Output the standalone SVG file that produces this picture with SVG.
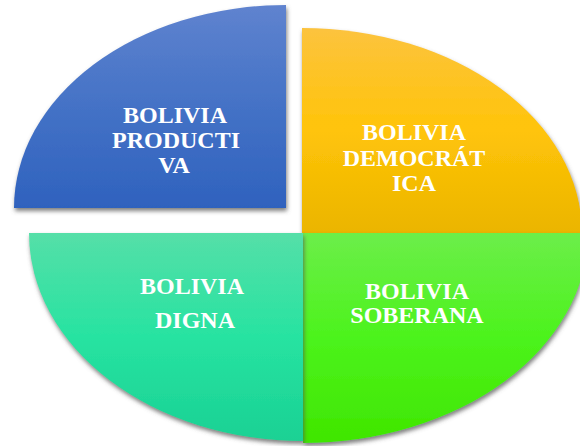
<svg xmlns="http://www.w3.org/2000/svg" width="580" height="446" viewBox="0 0 580 446">
<defs>
<style>
.lbl{font-family:"Liberation Serif","Times New Roman",serif;font-weight:bold;font-size:24px;fill:#ffffff;text-anchor:middle}
</style>
<filter id="sh" x="-10%" y="-10%" width="120%" height="120%">
<feGaussianBlur in="SourceAlpha" stdDeviation="2"/>
<feOffset dx="1" dy="3" result="b"/>
<feFlood flood-color="#555555" flood-opacity="0.75"/>
<feComposite in2="b" operator="in"/>
<feMerge><feMergeNode/><feMergeNode in="SourceGraphic"/></feMerge>
</filter>
<linearGradient id="gBlue" x1="0" y1="0" x2="0" y2="1">
<stop offset="0" stop-color="#5f83cf"/>
<stop offset="0.5" stop-color="#4472c6"/>
<stop offset="1" stop-color="#2f62be"/>
</linearGradient>
<linearGradient id="gYellow" x1="0" y1="0" x2="0" y2="1">
<stop offset="0" stop-color="#fcc33e"/>
<stop offset="0.5" stop-color="#ffc409"/>
<stop offset="1" stop-color="#ebb500"/>
</linearGradient>
<linearGradient id="gTeal" x1="0" y1="0" x2="0" y2="1">
<stop offset="0" stop-color="#55dfa8"/>
<stop offset="0.5" stop-color="#27e3a1"/>
<stop offset="1" stop-color="#1ad194"/>
</linearGradient>
<linearGradient id="gGreen" x1="0" y1="0" x2="0" y2="1">
<stop offset="0" stop-color="#6cee4a"/>
<stop offset="0.5" stop-color="#4cf31c"/>
<stop offset="1" stop-color="#40e600"/>
</linearGradient>
</defs>
<rect width="580" height="446" fill="#ffffff"/>
<g id="bolivia-productiva">
<path d="M286,208 L286,5 A272,203 0 0 0 14,208 Z" fill="url(#gBlue)" filter="url(#sh)"/>
<text class="lbl" x="175" y="123">BOLIVIA</text>
<text class="lbl" x="176" y="148">PRODUCTI</text>
<text class="lbl" x="174" y="173">VA</text>
</g>
<g id="bolivia-democratica">
<path d="M302,233 L302,28 A280,205 0 0 1 582,233 Z" fill="url(#gYellow)" filter="url(#sh)"/>
<text class="lbl" x="414" y="140">BOLIVIA</text>
<text class="lbl" x="414" y="166">DEMOCRÁT</text>
<text class="lbl" x="414" y="191">ICA</text>
</g>
<g id="bolivia-soberana">
<path d="M303,233 L303,443 A285,210 0 0 0 588,233 Z" fill="url(#gGreen)" filter="url(#sh)"/>
<text class="lbl" x="417" y="299">BOLIVIA</text>
<text class="lbl" x="417" y="323">SOBERANA</text>
</g>
<g id="bolivia-digna">
<path d="M303,233 L29,233 A274,208 0 0 0 303,441 Z" fill="url(#gTeal)" filter="url(#sh)"/>
<text class="lbl" x="192" y="294">BOLIVIA</text>
<text class="lbl" x="195" y="328">DIGNA</text>
</g>
<g id="connectors"></g>
</svg>
